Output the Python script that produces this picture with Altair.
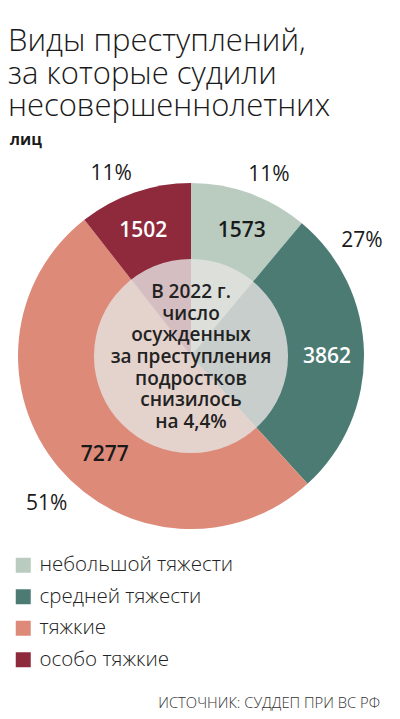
import math
import altair as alt
import pandas as pd

# ---- data ----
cats = ["небольшой тяжести", "средней тяжести", "тяжкие", "особо тяжкие"]
values = [1573, 3862, 7277, 1502]
shares = [11, 27, 51, 11]
colors = ["#b9ccbf", "#4b7b73", "#dd8a79", "#8f2a3d"]

title_lines = ["Виды преступлений,", "за которые судили", "несовершеннолетних"]
subtitle = "лиц"
center_lines = ["В 2022 г.", "число", "осужденных", "за преступления",
                "подростков", "снизилось", "на 4,4%"]
source = "ИСТОЧНИК: СУДДЕП ПРИ ВС РФ"

df = pd.DataFrame({
    "cat": cats,
    "value": values,
    "share": [f"{s}%" for s in shares],
    "order": list(range(len(cats))),
})
one = pd.DataFrame({"k": [0]})

CX, CY = 183, 198
R_OUT, R_IN = 173, 97
FONT = "Open Sans"
LH = 21.7

base = alt.Chart(df).transform_window(
    cum="sum(value)", sort=[alt.SortField("order")], frame=[None, 0]
).transform_joinaggregate(
    total="sum(value)"
).transform_calculate(
    t0="(datum.cum - datum.value) / datum.total * 2 * PI",
    t1="datum.cum / datum.total * 2 * PI",
).transform_calculate(
    mid="(datum.t0 + datum.t1) / 2"
).encode(x=alt.value(CX), y=alt.value(CY))

pie = base.mark_arc(outerRadius=R_OUT).encode(
    theta=alt.Theta("t0:Q", scale=None),
    theta2="t1:Q",
    color=alt.Color(
        "cat:N",
        scale=alt.Scale(domain=cats, range=colors),
        sort=cats,
        legend=alt.Legend(
            orient="none", legendX=5, legendY=397, title=None,
            symbolType="square", symbolSize=225, symbolStrokeWidth=0,
            labelFont=FONT, labelFontWeight=300, labelFontSize=20.5,
            labelColor="#222222", labelOffset=6, rowPadding=10.5, labelLimit=320,
        ),
    ),
)

overlay = alt.Chart(one).mark_arc(
    outerRadius=R_IN, theta=0, theta2=2 * math.pi, color="#e6e4e2", opacity=0.8
).encode(x=alt.value(CX), y=alt.value(CY))

mid_theta = alt.Theta("mid:Q", scale=None)

# label nudges (styling, per slice)
val_nudge = {"небольшой тяжести": (5, 1), "средней тяжести": (2, 4),
             "тяжкие": (16, 13), "особо тяжкие": (-4, 2)}
pct_nudge = {"небольшой тяжести": (9, 9), "средней тяжести": (-31, -111),
             "тяжкие": (10, 18), "особо тяжкие": (-14, 9)}
dark_text = {"небольшой тяжести": "#1a1a1a", "средней тяжести": "white",
             "тяжкие": "#1a1a1a", "особо тяжкие": "white"}

layers = [pie, overlay]
for c in cats:
    dx, dy = val_nudge[c]
    layers.append(
        base.transform_filter(alt.datum.cat == c).mark_text(
            radius=134, dx=dx, dy=dy, font=FONT, fontWeight=600, fontSize=21,
            align="center", baseline="middle", color=dark_text[c]
        ).encode(theta=mid_theta, text="value:Q")
    )
    dx, dy = pct_nudge[c]
    layers.append(
        base.transform_filter(alt.datum.cat == c).mark_text(
            radius=202, dx=dx, dy=dy, font=FONT, fontWeight=400, fontSize=21,
            align="center", baseline="middle", color="#1a1a1a"
        ).encode(theta=mid_theta, text="share:N")
    )

center = alt.Chart(one).mark_text(
    text=center_lines, lineHeight=LH, font=FONT, fontWeight=600, fontSize=19,
    color="#222222", align="center", baseline="middle"
).encode(x=alt.value(CX), y=alt.value(CY + 1 - 3 * LH))

title = alt.Chart(one).mark_text(
    text=title_lines, lineHeight=32.5, font=FONT, fontWeight=300, fontSize=31,
    color="#1a1a1a", align="left", baseline="alphabetic"
).encode(x=alt.value(0), y=alt.value(-107))

sub = alt.Chart(one).mark_text(
    text=subtitle, font=FONT, fontWeight=700, fontSize=15.5,
    color="#1a1a1a", align="left", baseline="alphabetic"
).encode(x=alt.value(2), y=alt.value(-13))

src = alt.Chart(one).mark_text(
    text=source, font=FONT, fontWeight=300, fontSize=14.8, color="#333333",
    align="right", baseline="alphabetic"
).encode(x=alt.value(372), y=alt.value(550))

layers += [center, title, sub, src]

chart = alt.layer(*layers).properties(
    width=384, height=553,
    autosize=alt.AutoSizeParams(type="none"),
    padding={"top": 150, "left": 0, "right": 0, "bottom": 0},
).configure_view(stroke=None)

chart.save("out.html", embed_options={"renderer": "svg", "actions": False})
